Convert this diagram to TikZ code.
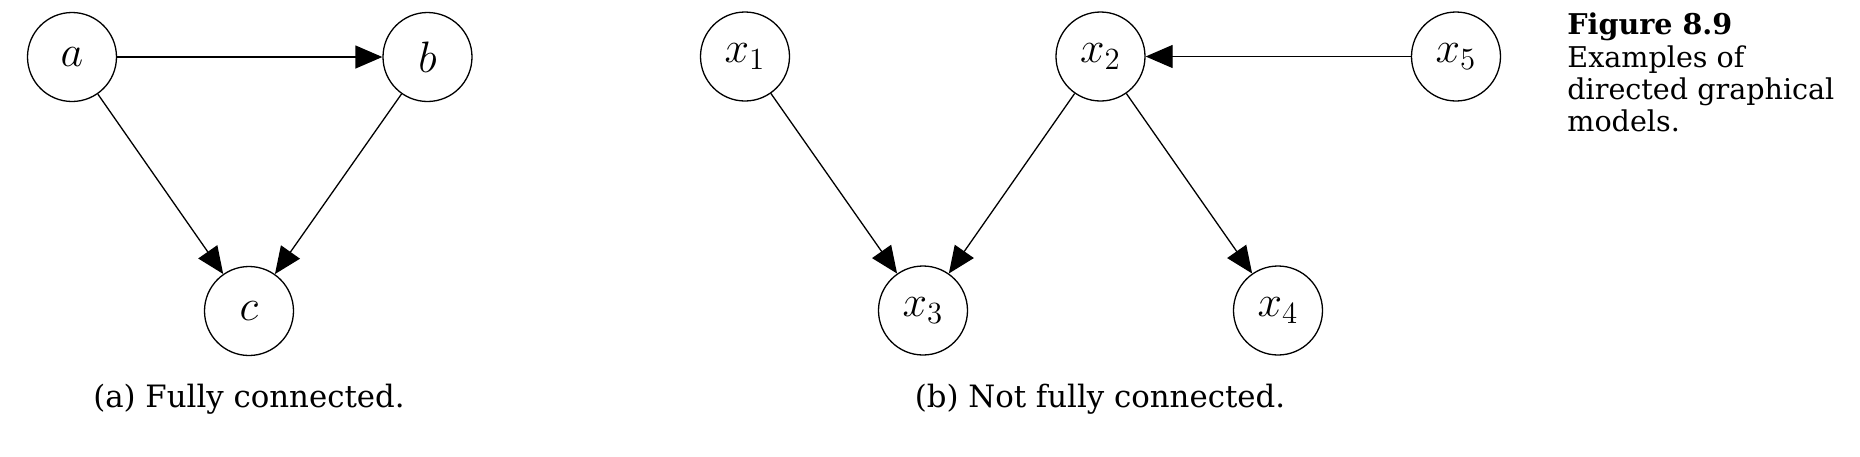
\RequirePackage{fix-cm}
\documentclass[tikz,border=0pt]{standalone}
\usepackage{fontspec}
\setmainfont{DejaVu Serif}
\usetikzlibrary{arrows.meta}
\tikzset{
  var/.style={draw, circle, line width=0.65pt, inner sep=0pt, minimum size=44.5pt,
    font=\fontsize{22}{26}\selectfont},
  edge/.style={line width=0.65pt, -{Triangle[length=13.5pt,width=11.5pt]}},
  subcap/.style={anchor=base, inner sep=0pt, font=\fontsize{15.4}{18}\selectfont},
  side/.style={anchor=base west, inner sep=0pt, font=\fontsize{14.3}{16.25}\selectfont}
}
\begin{document}
\begin{tikzpicture}[x=0.5pt,y=-0.5pt]
\useasboundingbox (0,0) rectangle (1860,456);
% (a)
\node[var] (a) at (72,57) {$a$};
\node[var] (b) at (427.5,57) {$b$};
\node[var] (c) at (249,311) {$c$};
\draw[edge] (a) -- (b);
\draw[edge] (a) -- (c);
\draw[edge] (b) -- (c);
\node[subcap] (capa) at (249,407.5) {(a) Fully connected.};
% (b)
\node[var] (x1) at (745,56.5) {$x_1$};
\node[var] (x2) at (1100.5,56.5) {$x_2$};
\node[var] (x5) at (1456,56.5) {$x_5$};
\node[var] (x3) at (923,310.5) {$x_3$};
\node[var] (x4) at (1278,310.5) {$x_4$};
\draw[edge] (x1) -- (x3);
\draw[edge] (x2) -- (x3);
\draw[edge] (x2) -- (x4);
\draw[edge] (x5) -- (x2);
\node[subcap] (capb) at (1100,407) {(b) Not fully connected.};
% side caption
\node[side] (f1) at (1567,34.3) {\textbf{Figure 8.9}};
\node[side] (f2) at (1567,67.5) {Examples of};
\node[side] (f3) at (1567,99.5) {directed graphical};
\node[side] (f4) at (1567,131.7) {models.};
\end{tikzpicture}
\end{document}
